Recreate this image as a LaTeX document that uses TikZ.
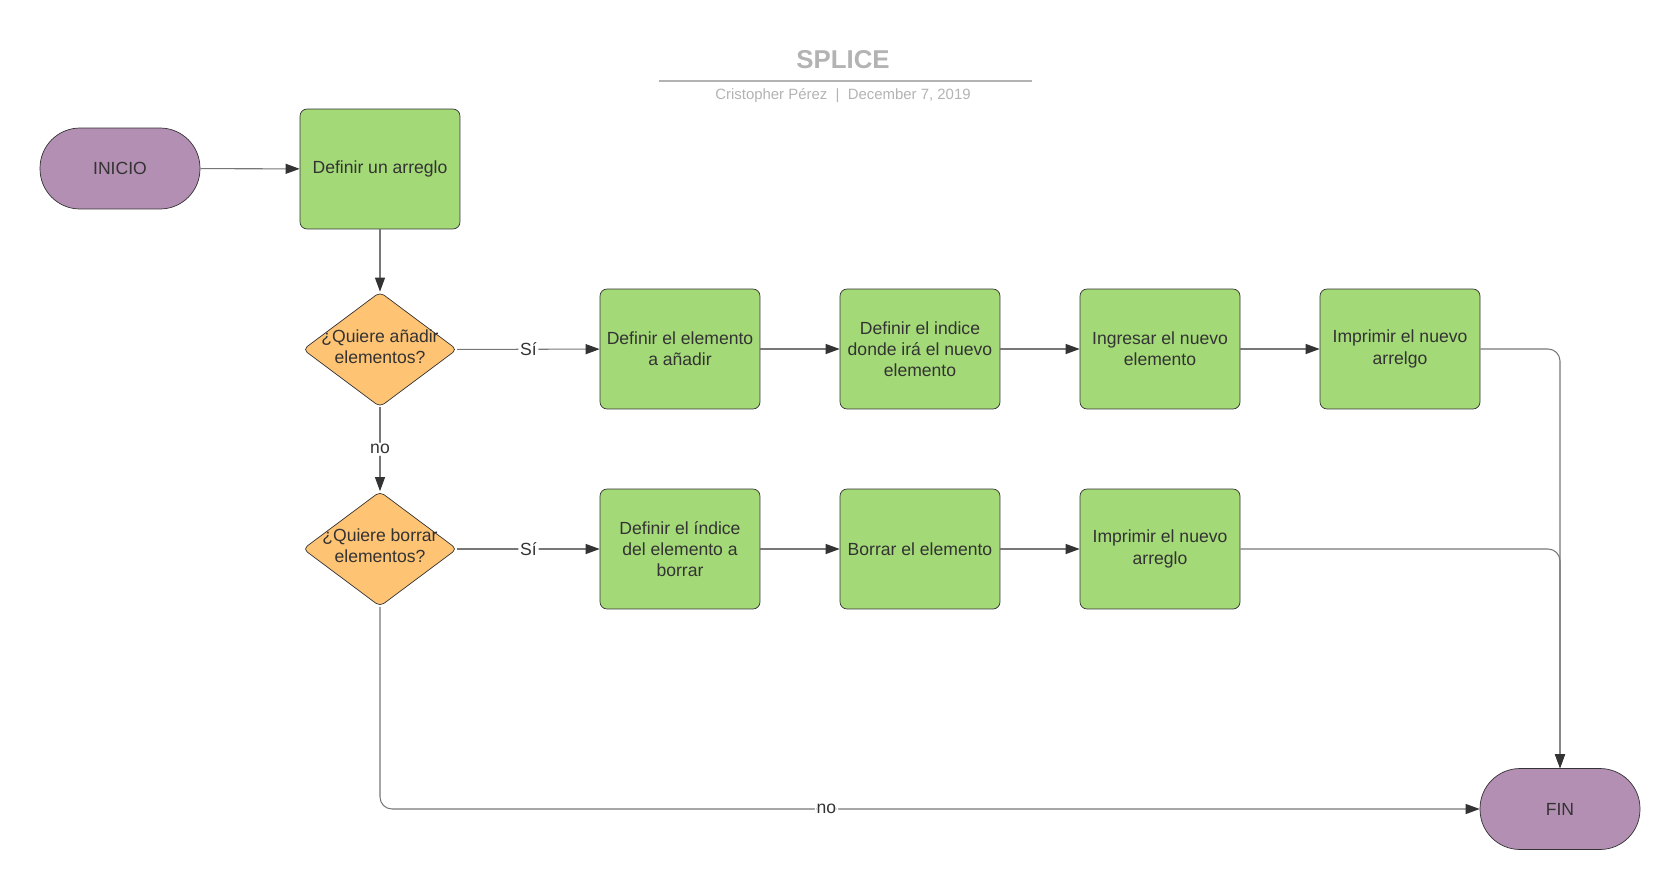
\documentclass[tikz,border=0pt]{standalone}
\usepackage{fontspec}
\setmainfont{Liberation Sans}
\usetikzlibrary{shapes.geometric,arrows.meta}

\definecolor{boxgreen}{HTML}{A3D977}
\definecolor{askorange}{HTML}{FFC374}
\definecolor{endpurple}{HTML}{B28FB3}
\definecolor{ink}{HTML}{333333}
\definecolor{wire}{HTML}{777777}
\definecolor{titlegray}{HTML}{B3B3B3}

\begin{document}
\begin{tikzpicture}[x=0.02cm, y=-0.02cm,
    every node/.style={text=ink, font=\fontsize{10}{12.1}\selectfont},
    terminal/.style={draw=ink, fill=endpurple, rounded corners=0.8cm, minimum width=3.2cm, minimum height=1.62cm},
    process/.style={draw=ink, fill=boxgreen, rounded corners=0.14cm, minimum width=3.2cm, minimum height=2.4cm, inner sep=0.05cm, align=center},
    decision/.style={draw=ink, fill=askorange, diamond, rounded corners=0.1cm, minimum width=3.08cm, minimum height=2.3cm, inner sep=0pt},
    flow/.style={draw=wire, line width=0.6pt, rounded corners=0.24cm, -{Triangle[length=0.28cm, width=0.2cm, color=ink]}},
    answer/.style={fill=white, inner sep=1pt}]
  \useasboundingbox (0,0) rectangle (1680,889);

  \node[font=\fontsize{14.7}{17}\selectfont\bfseries, text=titlegray] (title) at (843,60) {SPLICE};
  \coordinate (rulel) at (659,81);
  \coordinate (ruler) at (1032,81);
  \draw[titlegray, line width=1.1pt] (rulel) -- (ruler);
  \node[font=\fontsize{8.5}{10}\selectfont, text=titlegray] (byline) at (843,96) {Cristopher Pérez~~|~~December 7, 2019};

  \node[terminal] (inicio) at (120,168.5) {INICIO};
  \node[process] (arreglo) at (380,169) {Definir un arreglo};

  \draw[flow] (inicio) -- (arreglo);

  \node[decision] (anadir) at (380,349.5) {};
  \node[align=center, yshift=0.06cm] (anadirt) at (anadir) {¿Quiere añadir\\elementos?};
  \node[process] (elem) at (680,349) {Definir el elemento\\a añadir};
  \node[process] (indice) at (920,349) {Definir el indice\\donde irá el nuevo\\elemento};
  \node[process] (ingresar) at (1160,349) {Ingresar el nuevo\\elemento};
  \node[process] (impr1) at (1400,349) {Imprimir el nuevo\\arrelgo};

  \draw[flow] (arreglo) -- (anadir);
  \draw[flow] (anadir) -- node[answer] {Sí} (elem);
  \draw[flow] (elem) -- (indice);
  \draw[flow] (indice) -- (ingresar);
  \draw[flow] (ingresar) -- (impr1);

  \node[decision] (borrar) at (380,549) {};
  \node[align=center, yshift=0.06cm] (borrart) at (borrar) {¿Quiere borrar\\elementos?};
  \node[process] (delidx) at (680,549) {Definir el índice\\del elemento a\\borrar};
  \node[process] (delelem) at (920,549) {Borrar el elemento};
  \node[process] (impr2) at (1160,549) {Imprimir el nuevo\\arreglo};

  \draw[flow] (anadir) -- node[answer] {no} (borrar);
  \draw[flow] (borrar) -- node[answer] {Sí} (delidx);
  \draw[flow] (delidx) -- (delelem);
  \draw[flow] (delelem) -- (impr2);

  \node[terminal] (fin) at (1560,809) {FIN};

  \draw[flow] (impr1.east) -| (fin.north);
  \draw[flow] (impr2.east) -| (fin.north);
  \draw[flow] (borrar.south) |- node[answer, pos=0.703] {no} (fin.west);
\end{tikzpicture}
\end{document}
